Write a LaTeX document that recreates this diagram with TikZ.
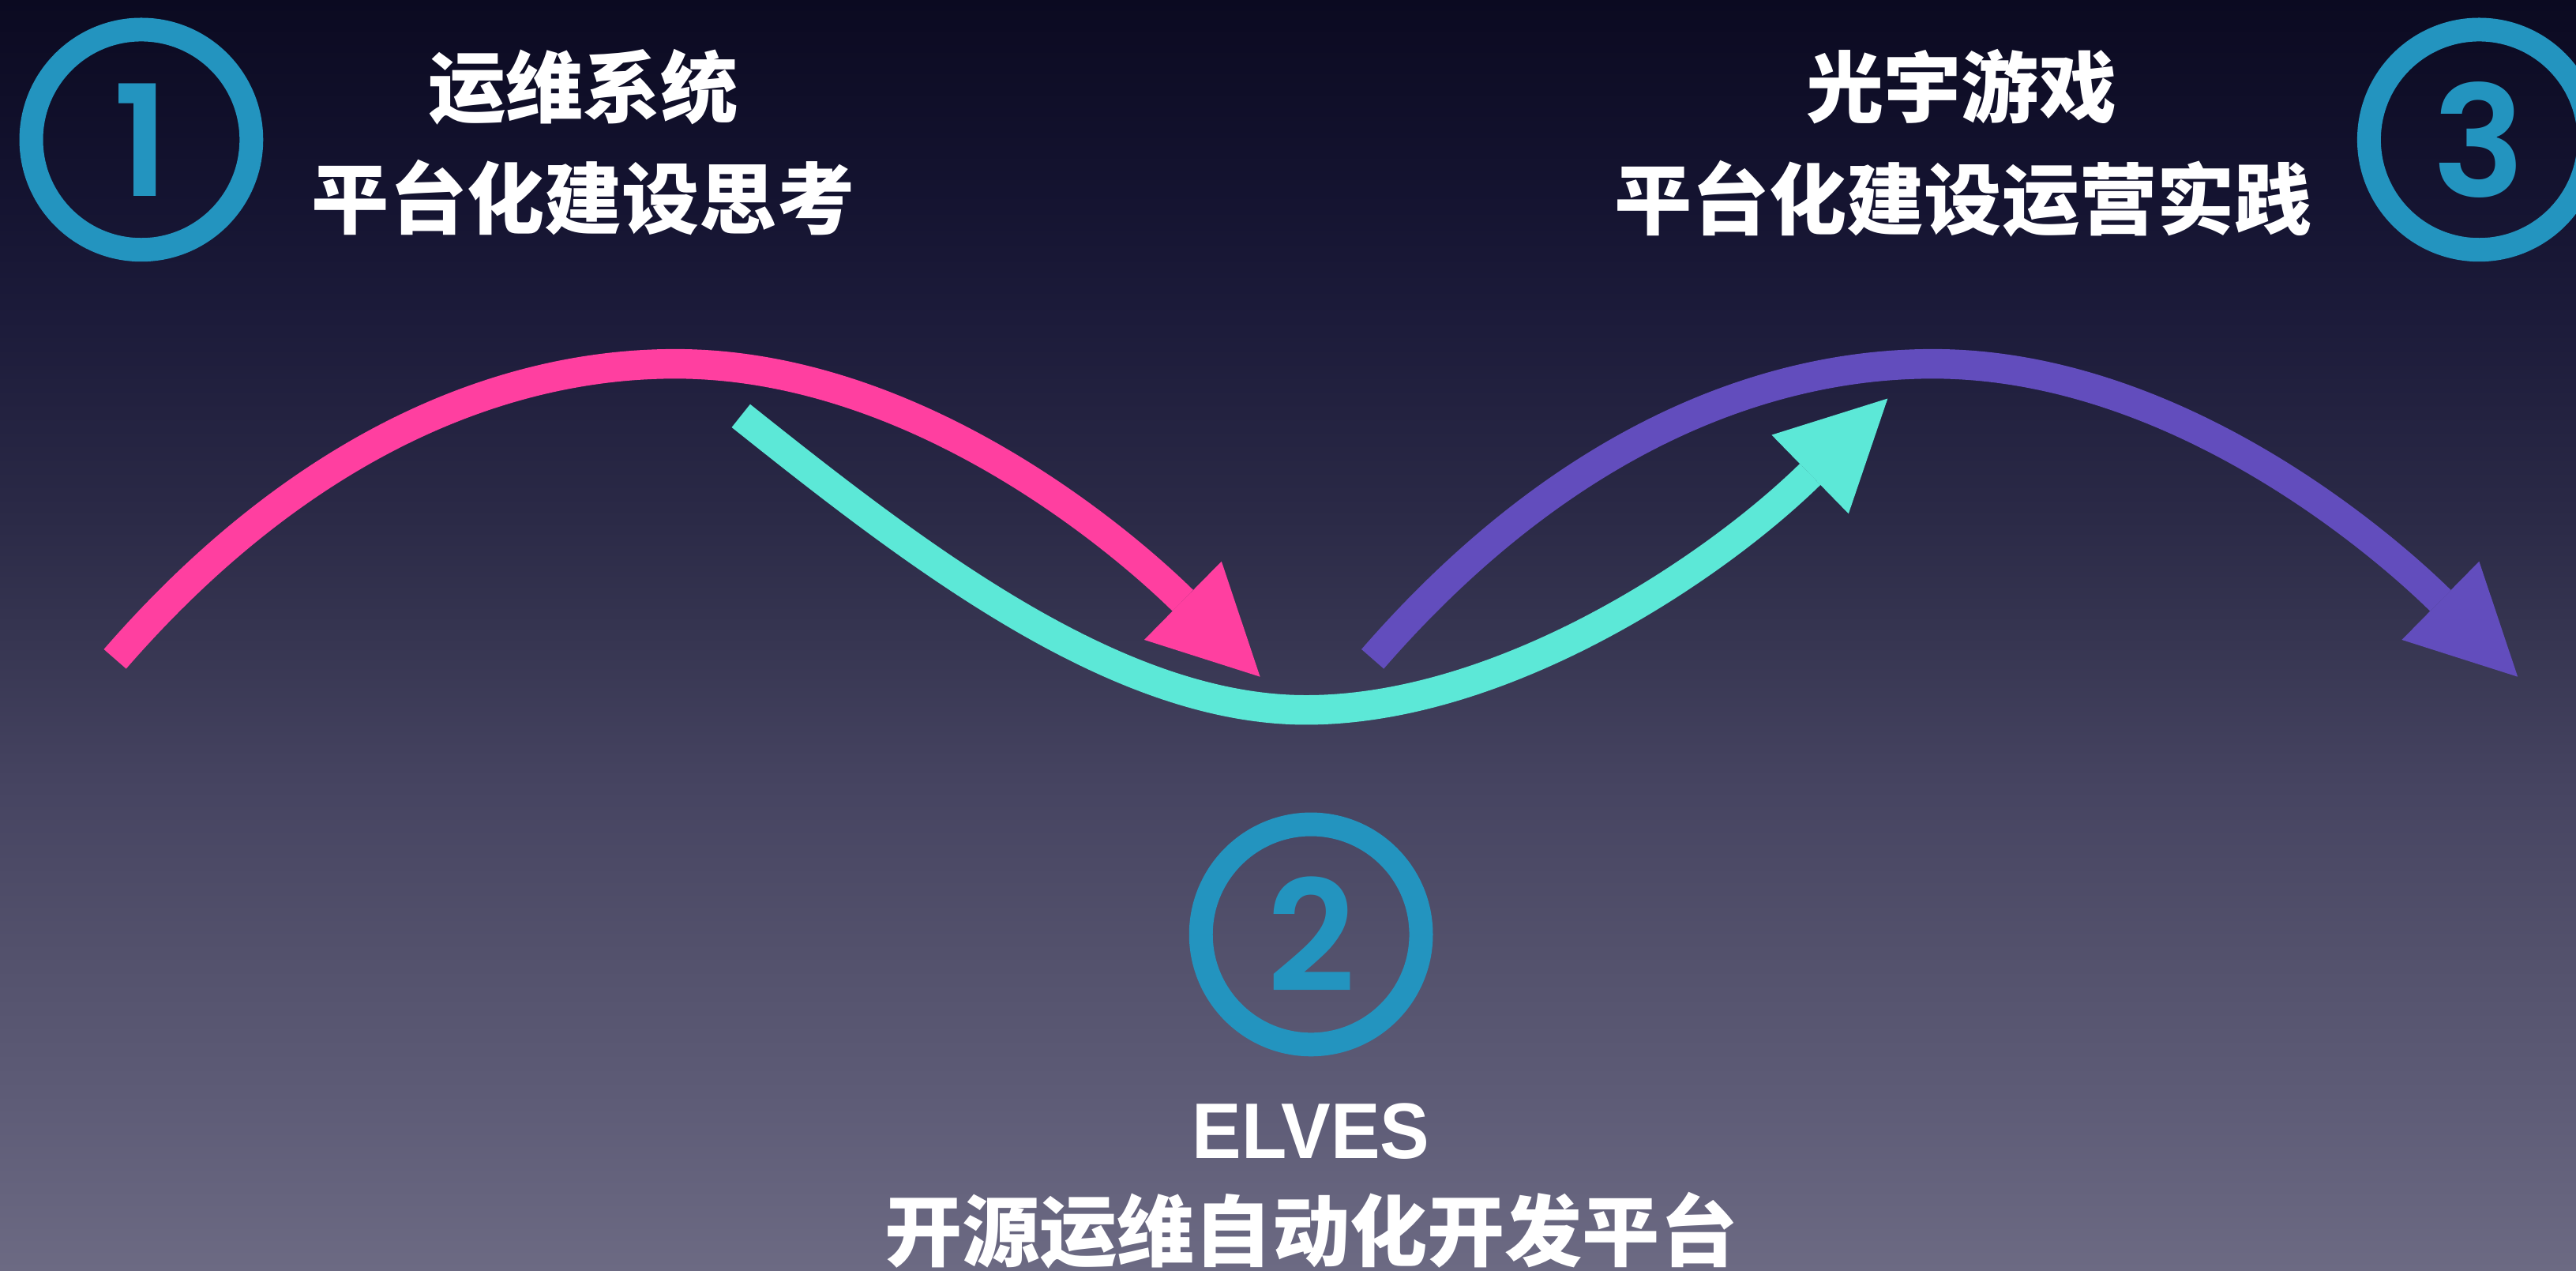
\documentclass[tikz,border=0pt]{standalone}
\usepackage{fontspec}
\newfontfamily\cjk{Noto Sans CJK SC}
\newfontfamily\latinb{Liberation Sans}[FakeStretch=0.94]
\newfontfamily\digitf{Poppins SemiBold}
\usetikzlibrary{arrows.meta}
\definecolor{bga}{HTML}{0B0A21}
\definecolor{bgb}{HTML}{141330}
\definecolor{bgc}{HTML}{1C1B3A}
\definecolor{bgd}{HTML}{2A2946}
\definecolor{bge}{HTML}{363551}
\definecolor{bgf}{HTML}{464461}
\definecolor{bgg}{HTML}{53516C}
\definecolor{bgh}{HTML}{5E5C77}
\definecolor{bgi}{HTML}{6C6A83}
\definecolor{cpink}{HTML}{FF3FA0}
\definecolor{cteal}{HTML}{5CE8D7}
\definecolor{cpurple}{HTML}{624DBD}
\definecolor{cblue}{HTML}{2394BF}
\pgfdeclareverticalshading{bgshade}{100bp}{color(0bp)=(bgi); color(25bp)=(bgi); color(31.5bp)=(bgh); color(37.5bp)=(bgg); color(44bp)=(bgf); color(50bp)=(bge); color(55bp)=(bgd); color(62.5bp)=(bgc); color(67.5bp)=(bgb); color(75bp)=(bga); color(100bp)=(bga)}
\begin{document}
\begin{tikzpicture}[x=0.5pt,y=-0.5pt,
  flow/.style={line width=9pt, line cap=butt, -{Triangle[length=33pt,width=33.5pt,line width=0pt]}},
  numc/.style={circle, draw=cblue, line width=7.2pt, minimum size=67pt, inner sep=0pt, text=cblue, font=\digitf\fontsize{47pt}{47pt}\selectfont},
  lbl/.style={anchor=base, inner sep=0pt, text=white, font=\cjk\bfseries\fontsize{23.6pt}{28pt}\selectfont},
  elv/.style={anchor=base, inner sep=0pt, text=white, font=\latinb\bfseries\fontsize{24pt}{28pt}\selectfont}]
\useasboundingbox (0,0) rectangle (1568,773);
\clip (0,0) rectangle (1568,773);
\fill[shading=bgshade] (0,0) rectangle (1568,773);
% circles
\node[numc] (c1) at (86,85) {1};
\node[numc] (c2) at (798,568.6) {2};
\node[numc] (c3) at (1509,85) {3};
% labels
\node[lbl] (t1a) at (355,71) {运维系统};
\node[lbl] (t1b) at (355,138.6) {平台化建设思考};
\node[lbl] (t3a) at (1194,71) {光宇游戏};
\node[lbl] (t3b) at (1195,139) {平台化建设运营实践};
\node[elv] (t2a) at (798,705) {ELVES};
\node[lbl] (t2b) at (798,767) {开源运维自动化开发平台};
% arrow anchors
\coordinate (ps) at (70,401);
\coordinate (pm) at (411,221.4);
\coordinate (pe) at (767,411.8);
\coordinate (ts) at (451,253);
\coordinate (tm) at (795,432);
\coordinate (te) at (1149,242.5);
\coordinate (us) at (835.5,401);
\coordinate (um) at (1176.5,221.4);
\coordinate (ue) at (1532.5,411.8);
% arrows
\draw[flow, cpink] (ps) .. controls (180,274.5) and (301,221.4) .. (pm) .. controls (561,221.4) and (688.9,334.8) .. (pe);
\draw[flow, cteal] (ts) .. controls (560,340) and (680,432) .. (tm) .. controls (913,432) and (1041,348) .. (te);
\draw[flow, cpurple] (us) .. controls (945.5,274.5) and (1066.5,221.4) .. (um) .. controls (1326.5,221.4) and (1454.4,334.8) .. (ue);
\end{tikzpicture}
\end{document}
